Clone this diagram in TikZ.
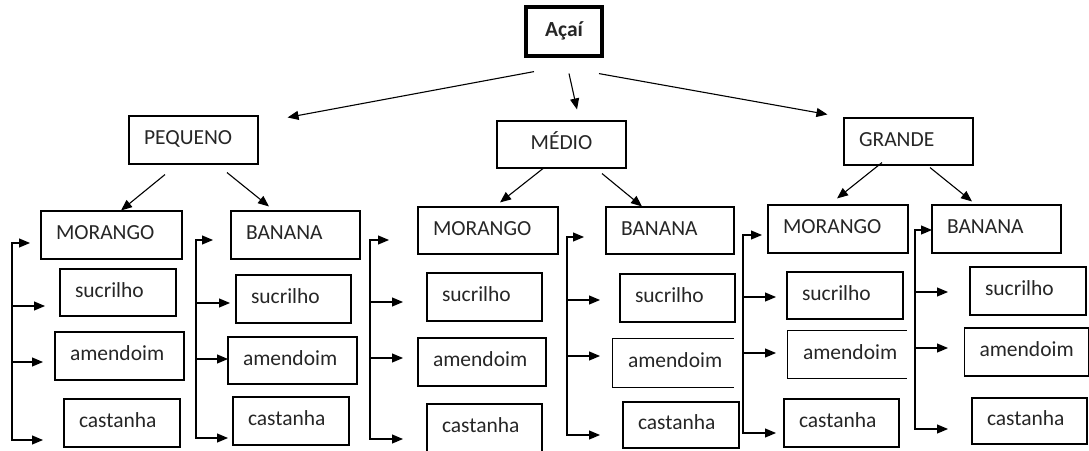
\documentclass[tikz,border=0pt]{standalone}
\usepackage{fontspec}
\setmainfont{Carlito}
\usetikzlibrary{arrows.meta,positioning}

\tikzset{
  box/.style={draw, line width=1.1pt, inner xsep=15pt, inner ysep=0pt, align=left,
    minimum height=48pt, text height=14pt, text depth=5pt, text=black!85, font=\fontsize{21.5}{25}\selectfont},
  openbox/.style={box, draw=none},
  arr/.style={line width=1.1pt, -{Triangle[length=11pt,width=9pt]}},
}

\begin{document}
\begin{tikzpicture}[x=1pt,y=-1pt]
\useasboundingbox (0,0) rectangle (1089,450);

\node[box, line width=3.2pt, align=center, text width=46pt, minimum height=49pt, font=\fontsize{21.5}{25}\selectfont\bfseries] (acai) at (564,31.5) {Açaí};

\node[box, text width=99pt] (peq) at (193.5,140) {PEQUENO};
\node[box, text width=99pt, align=center, minimum height=47pt] (med) at (561.5,144.5) {MÉDIO};
\node[box, text width=99pt, minimum height=47pt] (gra) at (908.5,141.5) {GRANDE};

% pequeno
\node[box, text width=111pt] (pm) at (111.5,235) {MORANGO};
\node[box, text width=99pt] (pb) at (295.5,235) {BANANA};
\node[box, text width=86pt, minimum height=47pt] (pms) at (118,292.5) {sucrilho};
\node[box, text width=99pt] (pma) at (119.5,356) {amendoim};
\node[box, text width=86pt] (pmc) at (122,423) {castanha};
\node[box, text width=85pt] (pbs) at (293.5,299) {sucrilho};
\node[box, text width=99pt, minimum height=47pt] (pba) at (292.5,360.5) {amendoim};
\node[box, text width=86pt] (pbc) at (291,421) {castanha};

% medio
\node[box, text width=110pt, minimum height=47pt] (mm) at (488,230.5) {MORANGO};
\node[box, text width=98pt, minimum height=47pt] (mb) at (670,230.5) {BANANA};
\node[box, text width=85pt] (mms) at (484.5,297) {sucrilho};
\node[box, text width=98pt] (mma) at (482,362) {amendoim};
\node[box, text width=85pt] (mmc) at (484.5,428) {castanha};
\node[box, text width=85pt] (mbs) at (677.5,298) {sucrilho};
\node[openbox, text width=90pt] (mba) at (673,363) {amendoim};
\node[box, text width=86pt, minimum height=46pt] (mbc) at (681,425) {castanha};

% grande
\node[box, text width=110pt] (gm) at (838,229) {MORANGO};
\node[box, text width=99pt] (gb) at (996.5,229) {BANANA};
\node[box, text width=86pt, minimum height=47pt] (gms) at (845,295.5) {sucrilho};
\node[openbox, text width=88pt, minimum height=47pt] (gma) at (847,354.5) {amendoim};
\node[box, text width=85pt] (gmc) at (841.5,423) {castanha};
\node[box, text width=86pt] (gbs) at (1028,291) {sucrilho};
\node[box, text width=94pt] (gba) at (1026.5,352) {amendoim};
\node[box, text width=85pt, minimum height=46pt] (gbc) at (1029.5,421) {castanha};

\draw[line width=1.1pt] (mba.north east) -- (mba.north west) -- (mba.south west) -- (mba.south east);
\draw[line width=1.1pt] (gma.north east) -- (gma.north west) -- (gma.south west) -- (gma.south east);

\draw[arr] ([xshift=-30pt,yshift=-14pt]acai.south) -- ([xshift=29pt,yshift=-2pt]peq.north east);
\draw[arr] ([xshift=5pt,yshift=-16pt]acai.south) -- ([xshift=15.5pt,yshift=11pt]med.north);
\draw[arr] ([xshift=35pt,yshift=-16pt]acai.south) -- ([xshift=-16pt,yshift=3pt]gra.north west);

\draw[arr] ([xshift=-28.5pt,yshift=-10pt]peq.south) -- ([xshift=9.5pt]pm.north);
\draw[arr] ([xshift=33.5pt,yshift=-8pt]peq.south) -- ([xshift=-26.5pt,yshift=4pt]pb.north);
\draw[arr] ([xshift=-18.5pt]med.south) -- ([xshift=12pt,yshift=4pt]mm.north);
\draw[arr] ([xshift=40.5pt,yshift=-5pt]med.south) -- ([xshift=-28pt]mb.north);
\draw[arr] ([xshift=-26.5pt,yshift=3pt]gra.south) -- ([xshift=-1pt,yshift=6pt]gm.north);
\draw[arr] ([xshift=21.5pt,yshift=-2pt]gra.south) -- ([xshift=-24.5pt,yshift=3pt]gb.north);

% side brackets
\foreach \g/\x/\ya/\ta/\yb/\tb/\yc/\tc/\yd/\td in {
  pm/12/243/30/306/45/362/43/440/43,
  pb/196/240/213/303/230/359/228/438/228,
  mm/370/240/389/302/403/358/403/439/403,
  mb/567/237/584/300/600/356/600/435/600,
  gm/743/235/762/297/776/353/776/433/776,
  gb/915/230/932/292/948/348/948/429/948}{
  \coordinate (\g-top) at (\x,\ya);
  \coordinate (\g-bot) at (\x,\yd);
  \coordinate (\g-1) at (\ta,\ya);
  \coordinate (\g-2) at (\tb,\yb);
  \coordinate (\g-3) at (\tc,\yc);
  \coordinate (\g-4) at (\td,\yd);
  \draw[arr] (\g-bot) -- (\g-top) -- (\g-1);
  \draw[arr] (\g-top) -- (\g-bot) -- (\g-4);
  \draw[arr] (\g-top |- \g-2) -- (\g-2);
  \draw[arr] (\g-top |- \g-3) -- (\g-3);
}
\end{tikzpicture}
\end{document}
